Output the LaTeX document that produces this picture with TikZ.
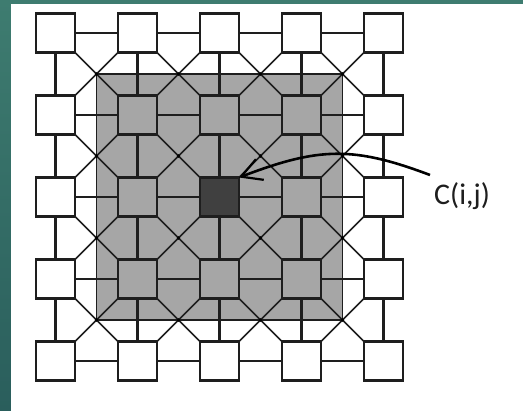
\documentclass[tikz,border=0pt]{standalone}
\usepackage{fontspec}
\setmainfont{Carlito}
\usetikzlibrary{arrows.meta}
\definecolor{lc}{RGB}{30,30,30}
\definecolor{gfill}{RGB}{166,166,166}
\definecolor{dfill}{RGB}{64,64,64}
\definecolor{tealtop}{RGB}{62,124,112}
\definecolor{tealbot}{RGB}{42,94,92}
\pgfdeclarelayer{bgzero}
\pgfdeclarelayer{bgone}
\pgfsetlayers{bgzero,bgone,main}
\tikzset{
  sq/.style={draw=lc, line width=2.3pt, minimum size=39pt, inner sep=0pt, outer sep=0pt, rectangle},
  conn/.style={draw=lc, line width=2.2pt},
  diag/.style={draw=lc, line width=1.6pt},
  callout/.style={draw=black, line width=2.6pt, -{Straight Barb[length=20pt,width=22pt,line width=2.2pt]}},
  lbl/.style={font=\fontsize{30}{32}\selectfont, text=lc, inner sep=0pt, anchor=base west}
}
\begin{document}
\begin{tikzpicture}[x=1pt,y=-1pt]
\useasboundingbox (0,0) rectangle (523,411);
\begin{pgfonlayer}{bgzero}
  \shade[top color=tealtop, bottom color=tealbot] (0,0) rectangle (523,411);
  \fill[white] (11,4) rectangle (523,411);
  \draw[fill=gfill, draw=lc, line width=1.8pt] (96.5,74) rectangle (342.5,320);
\end{pgfonlayer}
% squares
\foreach \r in {1,...,5}{
  \foreach \c in {1,...,5}{
    \def\fc{white}
    \ifnum\r>1 \ifnum\r<5 \ifnum\c>1 \ifnum\c<5 \def\fc{gfill}\fi\fi\fi\fi
    \ifnum\r=3 \ifnum\c=3 \def\fc{dfill}\fi\fi
    \node[sq, fill=\fc] (s\r\c) at ({55.5+82*(\c-1)},{33+82*(\r-1)}) {};
  }
}
\begin{pgfonlayer}{bgone}
  \foreach \r in {1,...,5}{
    \foreach \c/\d in {1/2,2/3,3/4,4/5}{
      \draw[conn] (s\r\c) -- (s\r\d);
      \draw[conn] (s\c\r) -- (s\d\r);
    }
  }
  \foreach \r/\rr in {1/2,2/3,3/4,4/5}{
    \foreach \c/\cc in {1/2,2/3,3/4,4/5}{
      \draw[diag] (s\r\c) -- (s\rr\cc);
      \draw[diag] (s\r\cc) -- (s\rr\c);
      \fill[black] ({96.5+82*(\c-1)},{74+82*(\r-1)}) circle (1.8);
    }
  }
\end{pgfonlayer}
% label and callout
\node[lbl] (clabel) at (434,205) {C(i,j)};
\coordinate (astart) at (430,175);
\draw[callout] (astart) .. controls (353,146) and (319,147) .. (s33.north east);
\end{tikzpicture}
\end{document}
